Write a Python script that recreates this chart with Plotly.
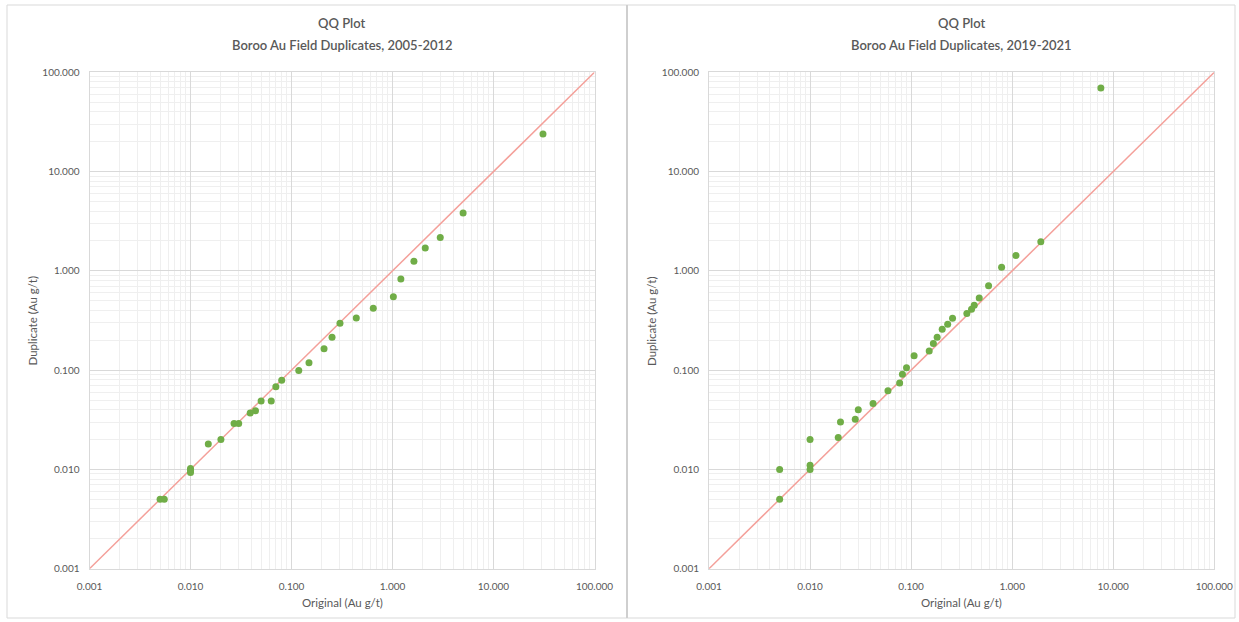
import plotly.graph_objects as go

# ---- data ----
left_original = [0.005, 0.0055, 0.010, 0.010, 0.010, 0.015, 0.020, 0.027, 0.030, 0.039, 0.044,
                 0.050, 0.063, 0.070, 0.080, 0.118, 0.149, 0.210, 0.252, 0.302, 0.438, 0.645,
                 1.02, 1.21, 1.63, 2.11, 2.97, 5.0, 30.9]
left_duplicate = [0.005, 0.005, 0.0102, 0.0097, 0.0093, 0.018, 0.020, 0.029, 0.029, 0.037, 0.039,
                  0.049, 0.049, 0.068, 0.079, 0.099, 0.119, 0.164, 0.215, 0.296, 0.335, 0.42,
                  0.55, 0.83, 1.25, 1.70, 2.17, 3.82, 23.9]

right_original = [0.005, 0.005, 0.010, 0.010, 0.010, 0.019, 0.020, 0.028, 0.030, 0.042, 0.059,
                  0.077, 0.082, 0.090, 0.107, 0.151, 0.166, 0.181, 0.203, 0.230, 0.257, 0.356,
                  0.396, 0.421, 0.472, 0.584, 0.786, 1.09, 1.92, 7.54]
right_duplicate = [0.010, 0.005, 0.020, 0.011, 0.010, 0.021, 0.030, 0.032, 0.040, 0.046, 0.062,
                   0.074, 0.091, 0.106, 0.140, 0.156, 0.186, 0.214, 0.258, 0.290, 0.333, 0.373,
                   0.410, 0.450, 0.532, 0.708, 1.09, 1.43, 1.96, 69.3]

line_ends = [0.001, 100]
tick_vals = [0.001, 0.01, 0.1, 1, 10, 100]
tick_text = ["0.001", "0.010", "0.100", "1.000", "10.000", "100.000"]
minor_vals = [m * 10 ** e for e in range(-3, 2) for m in range(2, 10)]

title_main = "QQ Plot"
subtitles = ["Boroo Au Field Duplicates, 2005-2012",
             "Boroo Au Field Duplicates, 2019-2021"]
x_title = "Original (Au g/t)"
y_title = "Duplicate (Au g/t)"

W, H = 1239, 622
FONT = "Lato"
TXT = "#595959"
GREEN = "#70ad47"
PINK = "#f4a09a"


def px(x):
    return x / W


def py(y):
    return 1 - y / H


fig = go.Figure()

panels = [
    dict(xa="x", ya="y", ox=left_original, oy=left_duplicate, x0=89.5, x1=594.5),
    dict(xa="x2", ya="y2", ox=right_original, oy=right_duplicate, x0=709, x1=1214.3),
]
ytop, ybot = 72.3, 568.7

for i, p in enumerate(panels):
    fig.add_trace(go.Scatter(x=line_ends, y=line_ends, mode="lines",
                             line=dict(color=PINK, width=1.5),
                             xaxis=p["xa"], yaxis=p["ya"], showlegend=False, hoverinfo="skip"))
    fig.add_trace(go.Scatter(x=p["ox"], y=p["oy"], mode="markers",
                             marker=dict(color=GREEN, size=7),
                             xaxis=p["xa"], yaxis=p["ya"], showlegend=False))
    axis_common = dict(type="log", range=[-3, 2], tickvals=tick_vals, ticktext=tick_text,
                       showgrid=True, gridcolor="#d9d9d9", gridwidth=1,
                       showline=True, linecolor="#d9d9d9", mirror=True,
                       zeroline=False, ticks="outside", tickcolor="rgba(0,0,0,0)",
                       tickfont=dict(family=FONT, size=10, color=TXT),
                       minor=dict(tickvals=minor_vals, showgrid=True, gridcolor="#efefef",
                                  gridwidth=1, ticks=""))
    sfx = "" if i == 0 else str(i + 1)
    fig.update_layout(**{
        "xaxis" + sfx: dict(axis_common, domain=[px(p["x0"]), px(p["x1"])],
                            anchor="y" + sfx, ticklen=8),
        "yaxis" + sfx: dict(axis_common, domain=[py(ybot), py(ytop)],
                            anchor="x" + sfx, ticklen=7),
    })
    cx = (p["x0"] + p["x1"]) / 2
    fig.add_annotation(text=title_main, x=px(cx), y=py(23), xref="paper", yref="paper",
                       showarrow=False, font=dict(family=FONT, size=13, color=TXT, weight=600),
                       xanchor="center", yanchor="middle")
    fig.add_annotation(text=subtitles[i], x=px(cx), y=py(45), xref="paper", yref="paper",
                       showarrow=False, font=dict(family=FONT, size=13, color=TXT, weight=600),
                       xanchor="center", yanchor="middle")
    fig.add_annotation(text=x_title, x=px(cx), y=py(602), xref="paper", yref="paper",
                       showarrow=False, font=dict(family=FONT, size=11.5, color=TXT),
                       xanchor="center", yanchor="middle")
    fig.add_annotation(text=y_title, x=px(p["x0"] - 57), y=py(321), xref="paper", yref="paper",
                       showarrow=False, textangle=-90, font=dict(family=FONT, size=11.5, color=TXT),
                       xanchor="center", yanchor="middle")

# panel borders
fig.add_shape(type="rect", xref="paper", yref="paper", x0=px(7), x1=px(627), y0=py(618), y1=py(5),
              line=dict(color="#d9d9d9", width=1))
fig.add_shape(type="rect", xref="paper", yref="paper", x0=px(627), x1=px(1235), y0=py(618), y1=py(5),
              line=dict(color="#d9d9d9", width=1))
fig.add_shape(type="line", xref="paper", yref="paper", x0=px(627), x1=px(627), y0=py(618), y1=py(5),
              line=dict(color="#cfcfcf", width=2))

fig.update_layout(width=W, height=H,
                  margin=dict(l=0, r=0, t=0, b=0, pad=0, autoexpand=False),
                  paper_bgcolor="white", plot_bgcolor="white",
                  font=dict(family=FONT, color=TXT))

fig.write_html("out.html")
